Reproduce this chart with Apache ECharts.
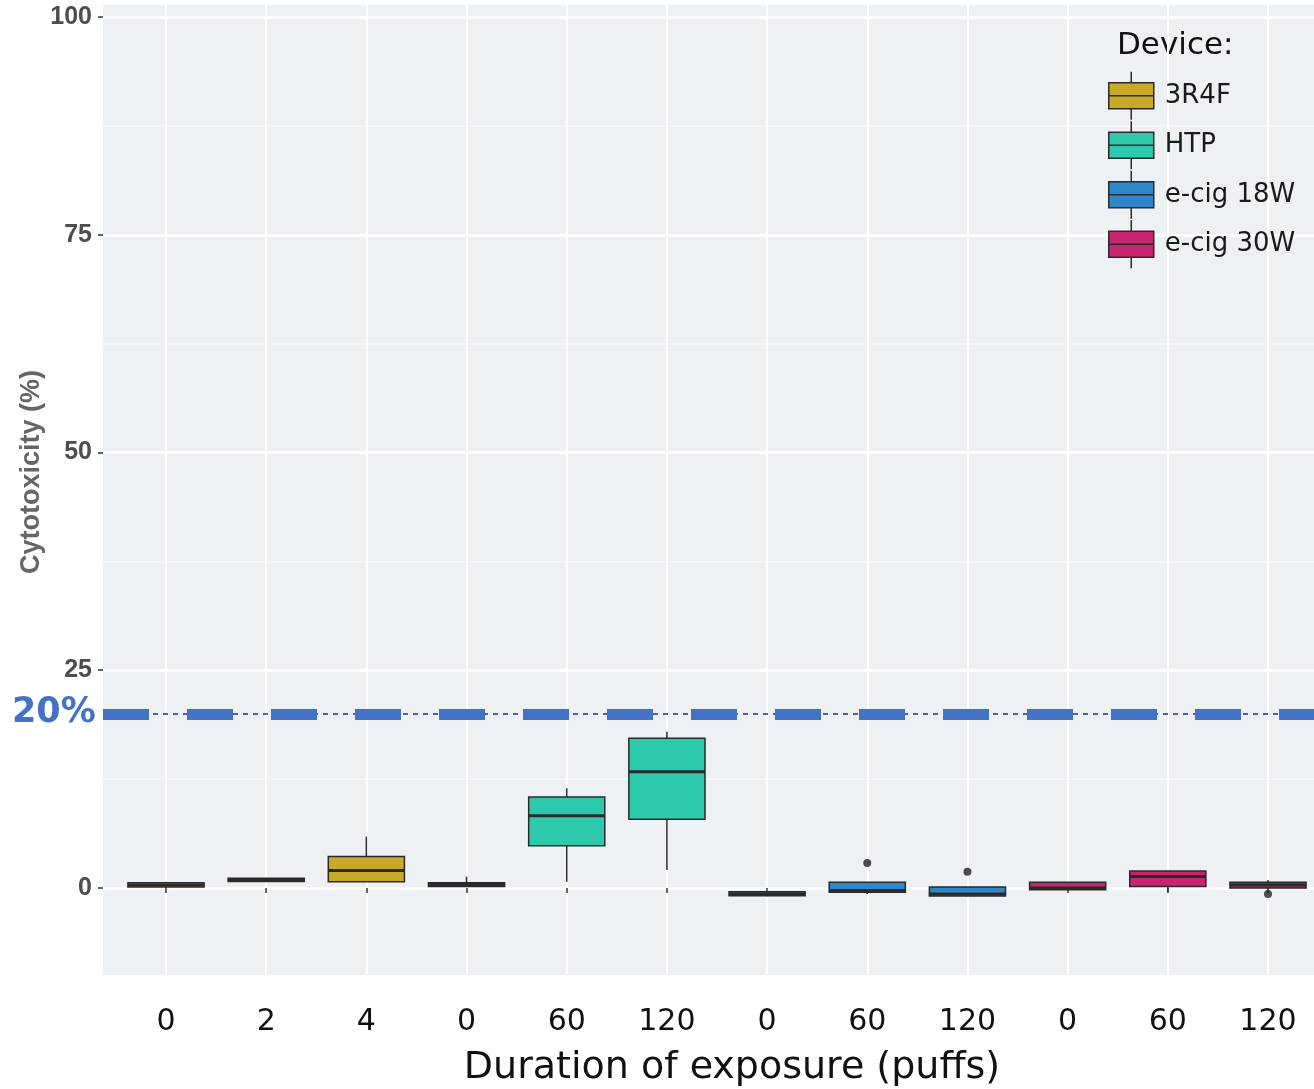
<!DOCTYPE html>
<html><head><meta charset="utf-8">
<script src="https://cdn.jsdelivr.net/npm/echarts@6/dist/echarts.min.js"></script>
<style>html,body{margin:0;padding:0;background:#fff}#c{width:1314px;height:1089px}</style>
</head><body><div id="c"></div>
<script>
const tickLabels = ['0','2','4','0','60','120','0','60','120','0','60','120'];
const devices = ['3R4F','HTP','e-cig 18W','e-cig 30W'];
const deviceStart = [0, 3, 6, 9];
// [min, Q1, median, Q3, max]
const box3R4F = [[0.0,0.1,0.35,0.6,0.7],[0.7,0.75,0.95,1.1,1.15],[0.7,0.72,2.0,3.6,5.9]];
const boxHTP = [[0.15,0.15,0.4,0.6,1.3],[0.7,4.85,8.3,10.45,11.45],[2.05,7.9,13.35,17.2,17.95]];
const box18W = [[-0.95,-0.9,-0.7,-0.45,-0.4],[-0.7,-0.5,-0.3,0.65,0.65],[-0.95,-0.92,-0.7,0.1,0.1]];
const box30W = [[-0.25,-0.2,0.0,0.65,0.65],[-0.4,0.15,1.3,1.95,1.95],[0.0,0.0,0.35,0.65,0.9]];
const outlierPoints = [[7,2.85],[8,1.87],[11,-0.7]];
const thresholdValue = 20;
const yMajor = [0,25,50,75,100];
const yMinor = [12.5,37.5,62.5,87.5];

const colors = ['#C9A928','#2CC9AD','#2F86C9','#C8246F'];
const boxSets = [box3R4F, boxHTP, box18W, box30W];
const YMIN = -10, YMAX = 101.4;
const EDGE = '#2a2a2a';

function seriesData(set, start){
  return set.map((b,i) => [start+i].concat(b));
}
function renderBox(color){
  return function(params, api){
    const x = api.value(0);
    const pMin = api.coord([x, api.value(1)]);
    const pQ1 = api.coord([x, api.value(2)]);
    const pMed = api.coord([x, api.value(3)]);
    const pQ3 = api.coord([x, api.value(4)]);
    const pMax = api.coord([x, api.value(5)]);
    const hw = api.size([1,0])[0] * 0.38;
    const cx = pMed[0];
    return {type:'group', children:[
      {type:'line', shape:{x1:cx, y1:pMin[1], x2:cx, y2:pQ1[1]}, style:{stroke:EDGE, lineWidth:1.5}},
      {type:'line', shape:{x1:cx, y1:pQ3[1], x2:cx, y2:pMax[1]}, style:{stroke:EDGE, lineWidth:1.5}},
      {type:'rect', shape:{x:cx-hw, y:pQ3[1], width:2*hw, height:pQ1[1]-pQ3[1]}, style:{fill:color, stroke:EDGE, lineWidth:1.5}},
      {type:'line', shape:{x1:cx-hw, y1:pMed[1], x2:cx+hw, y2:pMed[1]}, style:{stroke:EDGE, lineWidth:3}}
    ]};
  };
}

const chart = echarts.init(document.getElementById('c'), null, {renderer:'canvas'});
const series = [{
  type:'line', xAxisIndex:0, yAxisIndex:0, data:[], silent:true,
  markLine:{
    silent:true, symbol:['none','none'], label:{show:false},
    data:[
      {yAxis:thresholdValue, lineStyle:{color:'#2E2A8A', width:1.5, type:[5,5]}},
      {yAxis:thresholdValue, lineStyle:{color:'#4472C4', width:11, type:[46,38]}}
    ]
  }
}];
devices.forEach((d,k) => {
  series.push({
    name:d, type:'custom', xAxisIndex:1, yAxisIndex:2,
    renderItem: renderBox(colors[k]),
    encode:{x:0, y:[1,2,3,4,5]},
    data: seriesData(boxSets[k], deviceStart[k]),
    itemStyle:{color:colors[k]},
    silent:true
  });
});
series.push({
  name:'outliers', type:'scatter', xAxisIndex:1, yAxisIndex:2, data:outlierPoints,
  symbolSize:8, itemStyle:{color:'#222'}, z:5, silent:true
});

chart.setOption({
  animation:false,
  grid:[
    {left:103, right:0, top:5, bottom:114, show:true, backgroundColor:'#EEF1F4', borderWidth:0},
    {left:166, right:46, top:5, bottom:114}
  ],
  xAxis:[
    {gridIndex:0, type:'value', min:0, max:1, show:false},
    {gridIndex:1, type:'category', data:tickLabels, boundaryGap:false,
     axisLine:{show:false},
     axisTick:{show:true, interval:0, length:5, lineStyle:{color:'#333', width:1.5}},
     axisLabel:{interval:0, fontSize:30, color:'#111', fontFamily:'DejaVu Sans', margin:32},
     splitLine:{show:true, interval:0, lineStyle:{color:'#ffffff', width:2}}}
  ],
  yAxis:[
    {gridIndex:0, type:'value', min:YMIN, max:YMAX,
     axisLine:{show:false},
     axisTick:{show:true, customValues:yMajor, length:5, lineStyle:{color:'#333', width:1.5}},
     axisLabel:{customValues:yMajor, fontSize:25, fontWeight:'bold', color:'#4d4d4d', fontFamily:'Liberation Sans', margin:11},
     splitLine:{show:true, lineStyle:{color:'#ffffff', width:2.5}}},
    {gridIndex:0, type:'value', min:YMIN, max:YMAX,
     axisLine:{show:false},
     axisTick:{show:false, customValues:yMinor},
     axisLabel:{show:false, customValues:yMinor},
     splitLine:{show:true, lineStyle:{color:'#F8F9FB', width:1.5}}},
    {gridIndex:1, type:'value', min:YMIN, max:YMAX, show:false, splitLine:{show:false}}
  ],
  legend:{
    data:devices.map((d,k) => ({name:d, itemStyle:{color:colors[k]}})),
    orient:'vertical', left:1108, top:71, padding:0,
    itemWidth:45, itemHeight:48, itemGap:0, selectedMode:false,
    icon:'path://M22.5,0 L22.5,11 M1,11 L44,11 L44,37 L1,37 Z M1,24 L44,24 M22.5,37 L22.5,48',
    symbolKeepAspect:false,
    itemStyle:{borderColor:EDGE, borderWidth:1.5},
    textStyle:{fontSize:26, color:'#1a1a1a', fontFamily:'DejaVu Sans', padding:[0,0,0,6]}
  },
  graphic:[
    {type:'text', left:1117, top:30, style:{text:'Device:', fontSize:31, fill:'#111', fontFamily:'DejaVu Sans'}},
    {type:'text', x:12, y:713, style:{text:'20%', fontSize:35, fontWeight:'bold', fill:'#4472C4', fontFamily:'DejaVu Sans', verticalAlign:'middle', textAlign:'left'}},
    {type:'text', x:32, y:472, rotation:Math.PI/2, style:{text:'Cytotoxicity (%)', fontSize:27, fontWeight:'bold', fill:'#666', fontFamily:'Liberation Sans', align:'center', verticalAlign:'middle'}},
    {type:'text', x:732, y:1068, style:{text:'Duration of exposure (puffs)', fontSize:38, fill:'#111', fontFamily:'DejaVu Sans', align:'center', verticalAlign:'middle'}}
  ],
  series:series
});
</script></body></html>
